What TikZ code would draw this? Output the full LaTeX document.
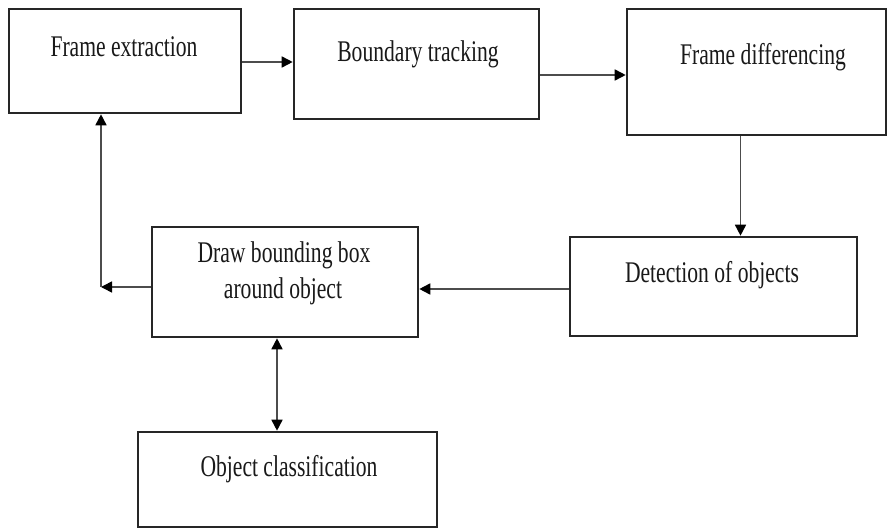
\documentclass[tikz,border=0pt]{standalone}
\usepackage{fontspec}
\setmainfont{Liberation Serif}[FakeStretch=0.72]
\usetikzlibrary{arrows.meta}
\begin{document}
\begin{tikzpicture}[x=1pt,y=-1pt,
  box/.style={draw=black!85, line width=2.6pt, inner sep=0pt, rectangle},
  lbl/.style={anchor=base, inner sep=0pt, text=black!90, font=\fontsize{30}{36}\selectfont, align=center},
  conn/.style={draw=black!70, line width=1.6pt},
  tip/.tip={Triangle[length=11pt,width=11pt,color=black]},
  arr/.style={conn, -tip},
  darr/.style={conn, tip-tip}]
\useasboundingbox (0,0) rectangle (888,529);
\fill[white] (0,0) rectangle (888,529);
% boxes
\node[box, minimum width=232pt, minimum height=104pt] (fe) at (125,61) {};
\node[box, minimum width=245pt, minimum height=110pt] (bt) at (416.5,64) {};
\node[box, minimum width=259pt, minimum height=126pt] (fd) at (756.5,72) {};
\node[box, minimum width=287pt, minimum height=99pt] (det) at (713.5,286.5) {};
\node[box, minimum width=266pt, minimum height=110pt] (dbb) at (285,282) {};
\node[box, minimum width=299pt, minimum height=95pt] (oc) at (287.5,479.5) {};
% labels
\node[lbl] (tfe) at (124,57) {Frame extraction};
\node[lbl] (tbt) at (418,62) {Boundary tracking};
\node[lbl] (tfd) at (763,65) {Frame differencing};
\node[lbl] (tdet) at (712,282) {Detection of objects};
\node[lbl] (tdbb1) at (284,262) {Draw bounding box};
\node[lbl] (tdbb2) at (283,298) {around object};
\node[lbl] (toc) at (289,476) {Object classification};
% connectors
\coordinate (c) at (101,287);
\draw[arr] ([yshift=-1pt]fe.east) -- ([yshift=-1pt]fe.east -| bt.west);
\draw[arr] ([yshift=-11pt]bt.east) -- ([yshift=-11pt]bt.east -| fd.west);
\draw[arr] ([xshift=-16pt]fd.south) -- ([xshift=-16pt]fd.south |- det.north);
\draw[arr] ([yshift=-2.5pt]det.west) -- ([yshift=-2.5pt]det.west -| dbb.east);
\draw[arr] (dbb.west |- c) -- (c);
\draw[arr] (c) -- (fe.south -| c);
\draw[darr] ([xshift=-8pt]dbb.south) -- ([xshift=-8pt]dbb.south |- oc.north);
\end{tikzpicture}
\end{document}
